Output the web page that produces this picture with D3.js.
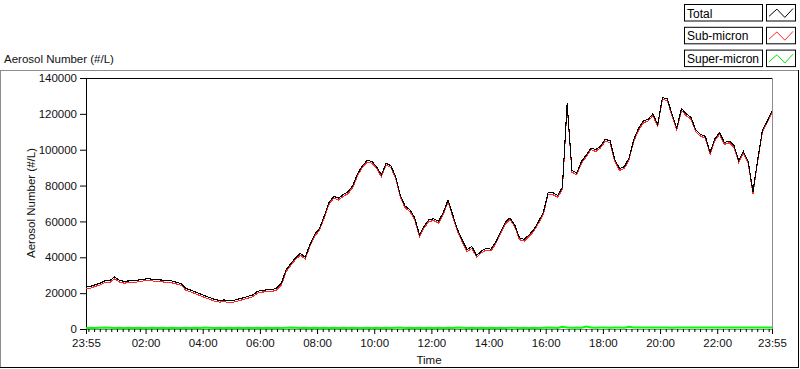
<!DOCTYPE html>
<html><head><meta charset="utf-8">
<script src="https://cdn.jsdelivr.net/npm/d3@7"></script>
<style>body{margin:0;background:#fff;} svg{display:block;font-family:"Liberation Sans",Arial,sans-serif;}</style>
</head><body><svg id="c" width="800" height="369"></svg>
<script>
const seriesNames = ["Total","Sub-micron","Super-micron"];
const seriesColors = ["#000000","#ff2a2a","#00e600"];
const yTickValues = [0,20000,40000,60000,80000,100000,120000,140000];
const xTickLabels = ["23:55","02:00","04:00","06:00","08:00","10:00","12:00","14:00","16:00","18:00","20:00","22:00","23:55"];
const yTitle = "Aerosol Number (#/L)";
const xTitle = "Time";
const sampleStepMinutes = 10;

const total = [
23500,23800,24800,25600,26900,27000,29000,27200,26600,26800,
27000,27300,27800,28000,27800,27400,27300,27000,26800,26100,
25300,22600,21700,20600,19600,18500,17500,16500,16000,16200,
15800,16000,16700,17400,18200,19000,21000,21600,21800,21900,
22800,25500,33000,36500,39800,42200,40000,47000,52800,56000,
63000,70500,74000,73000,75000,76500,80000,86500,91000,94000,
93500,90500,86000,92500,91000,85000,74500,68500,66500,62000,
52500,57500,61000,61500,60000,65000,72000,63500,55400,49500,
44200,46000,41000,43500,45000,44500,48500,54000,59500,62000,
58000,50800,50000,52500,55500,60000,65000,76000,76000,74500,
79000,126000,88500,87000,93500,97000,101000,100000,102000,105800,
105000,94500,89500,90500,95500,105800,112000,116000,117000,120000,
114000,129000,128500,120000,112000,123000,120000,118000,111000,108500,
107500,98500,106000,109600,104000,104900,102500,94000,99000,93500,
76500,94500,111000,116000,121700];

const subMicron = [
22500,22800,23800,24600,25900,26000,28000,26200,25600,25800,
26000,26300,26800,27000,26800,26400,26300,26000,25800,25100,
24300,21600,20700,19600,18600,17500,16500,15500,15000,15200,
14800,15000,15700,16400,17200,18000,20000,20600,20800,20900,
21800,24500,32000,35500,38800,41200,39000,46000,51800,55000,
62000,69500,73000,72000,74000,75500,79000,85500,90000,93000,
92500,89500,85000,91500,90000,84000,73500,67500,65500,61000,
51500,56500,60000,60500,59000,64000,71000,62500,54400,48500,
43200,45000,40000,42500,44000,43500,47500,53000,58500,61000,
57000,49800,49000,51500,54500,59000,64000,75000,75000,73500,
77800,124800,87500,86000,92400,96000,100000,99000,101000,104800,
104000,93500,88500,89500,94500,104800,111000,115000,116000,119000,
113000,128000,127500,119000,111000,122000,119000,117000,110000,107500,
106500,97500,105000,108600,103000,103900,101500,93000,98000,92500,
75500,93500,110000,115000,120700];

const superMicron = [
600,700,600,700,800,700,600,700,600,700,
600,700,600,600,700,600,700,600,700,600,
600,700,600,700,600,800,700,600,700,600,
700,600,700,600,700,600,700,600,700,600,
700,600,700,800,700,600,700,600,700,600,
700,600,700,600,700,600,700,600,600,700,
600,700,600,700,600,700,800,600,700,600,
700,600,700,600,700,600,700,600,800,700,
600,700,600,700,600,700,600,700,600,700,
700,600,700,600,700,600,700,800,700,600,
1200,900,700,800,700,1400,800,700,900,800,
700,900,800,700,1200,900,800,900,800,900,
800,900,800,700,900,800,900,800,900,800,
900,800,900,800,900,800,900,800,900,800,
900,800,900,800,800];

const svg = d3.select("#c");
const P = {left:86, top:78, right:772, bottom:329};
const span = 1440;
const x = d3.scaleLinear().domain([0, span]).range([P.left, P.right]);
const y = d3.scaleLinear().domain([0, 140000]).range([P.bottom, P.top]);

function toMin(lbl, i, arr){
  if (i === arr.length - 1) return span;
  const [h, m] = lbl.split(":").map(Number);
  let v = h*60 + m - (23*60 + 55);
  if (v < 0) v += 1440;
  return v;
}
const majorMins = xTickLabels.map(toMin);
const minorMins = d3.range(5, span, 12).filter(m => !majorMins.includes(m));

// outer frame
svg.append("line").attr("x1",0).attr("x2",799).attr("y1",70.5).attr("y2",70.5).attr("stroke","#8c8c8c");
svg.append("line").attr("x1",0.5).attr("x2",0.5).attr("y1",70).attr("y2",368).attr("stroke","#8c8c8c");
svg.append("line").attr("x1",0).attr("x2",799).attr("y1",367.5).attr("y2",367.5).attr("stroke","#000");
svg.append("line").attr("x1",798.5).attr("x2",798.5).attr("y1",70).attr("y2",368).attr("stroke","#000");

svg.append("text").attr("x",4).attr("y",63).attr("font-size",11.5).attr("fill","#111").text(yTitle);

svg.append("line").attr("x1",P.left).attr("x2",P.right+1).attr("y1",P.top+0.5).attr("y2",P.top+0.5).attr("stroke","#000");
svg.append("line").attr("x1",P.right+0.5).attr("x2",P.right+0.5).attr("y1",P.top).attr("y2",P.bottom+1).attr("stroke","#8c8c8c");

const xMinor = d3.axisBottom(x).tickValues(minorMins).tickSize(3).tickFormat("");
const gxm = svg.append("g").attr("transform",`translate(0,${P.bottom})`).call(xMinor);
gxm.select(".domain").attr("stroke","#8c8c8c");
gxm.selectAll(".tick line").attr("stroke","#000");
const xMajor = d3.axisBottom(x).tickValues(majorMins).tickSize(5).tickPadding(5)
  .tickFormat((d,i) => xTickLabels[i]);
const gx = svg.append("g").attr("transform",`translate(0,${P.bottom})`).call(xMajor);
gx.select(".domain").remove();
gx.selectAll(".tick line").attr("stroke","#000");
gx.selectAll(".tick text").attr("font-size",11.5).attr("fill","#111").attr("font-family","Liberation Sans, Arial, sans-serif");

const yAxis = d3.axisLeft(y).tickValues(yTickValues).tickSize(6).tickPadding(3).tickFormat(d3.format("d"));
const gy = svg.append("g").attr("transform",`translate(${P.left},0)`).call(yAxis);
gy.select(".domain").attr("stroke","#000");
gy.selectAll(".tick line").attr("stroke","#000");
gy.selectAll(".tick text").attr("font-size",11.5).attr("fill","#111").attr("font-family","Liberation Sans, Arial, sans-serif");

svg.append("text").attr("transform","translate(35,203) rotate(-90)").attr("text-anchor","middle")
  .attr("font-size",11.5).attr("fill","#111").text(yTitle);
svg.append("text").attr("x",429).attr("y",364).attr("text-anchor","middle")
  .attr("font-size",11.5).attr("fill","#111").text(xTitle);

const series = [superMicron, subMicron, total];
const colors = ["#00ff00", seriesColors[1], seriesColors[0]];
const line = d3.line().x((d,i) => x(i*sampleStepMinutes)).y(d => y(d)).curve(d3.curveLinear);
series.forEach((s,j) => {
  const p = svg.append("path").datum(s).attr("d", line).attr("fill","none")
    .attr("stroke", colors[j]).attr("stroke-width", j===0 ? 2 : 1.1);
  if (j > 0) p.attr("shape-rendering", "crispEdges");
});

const lg = svg.append("g");
seriesNames.forEach((name, i) => {
  const y0 = 4.5 + i*22.8;
  lg.append("rect").attr("x",684.5).attr("y",y0).attr("width",78).attr("height",16.5)
    .attr("fill","#fff").attr("stroke","#000");
  lg.append("text").attr("x",687).attr("y",y0+13).attr("font-size",12).attr("fill","#000").text(name);
  lg.append("rect").attr("x",766.5).attr("y",y0).attr("width",29).attr("height",16.5)
    .attr("fill","#fff").attr("stroke","#000");
  const sx = d3.scaleLinear().domain([0,1]).range([769,793]);
  const sy = d3.scaleLinear().domain([0,1]).range([y0+14, y0+3]);
  const pts = [[0,0.2],[0.33,0.85],[0.66,0.1],[1,0.9]];
  lg.append("path").attr("d", d3.line().x(p=>sx(p[0])).y(p=>sy(p[1]))(pts))
    .attr("fill","none").attr("stroke", seriesColors[i]).attr("stroke-width",1);
});
</script></body></html>
